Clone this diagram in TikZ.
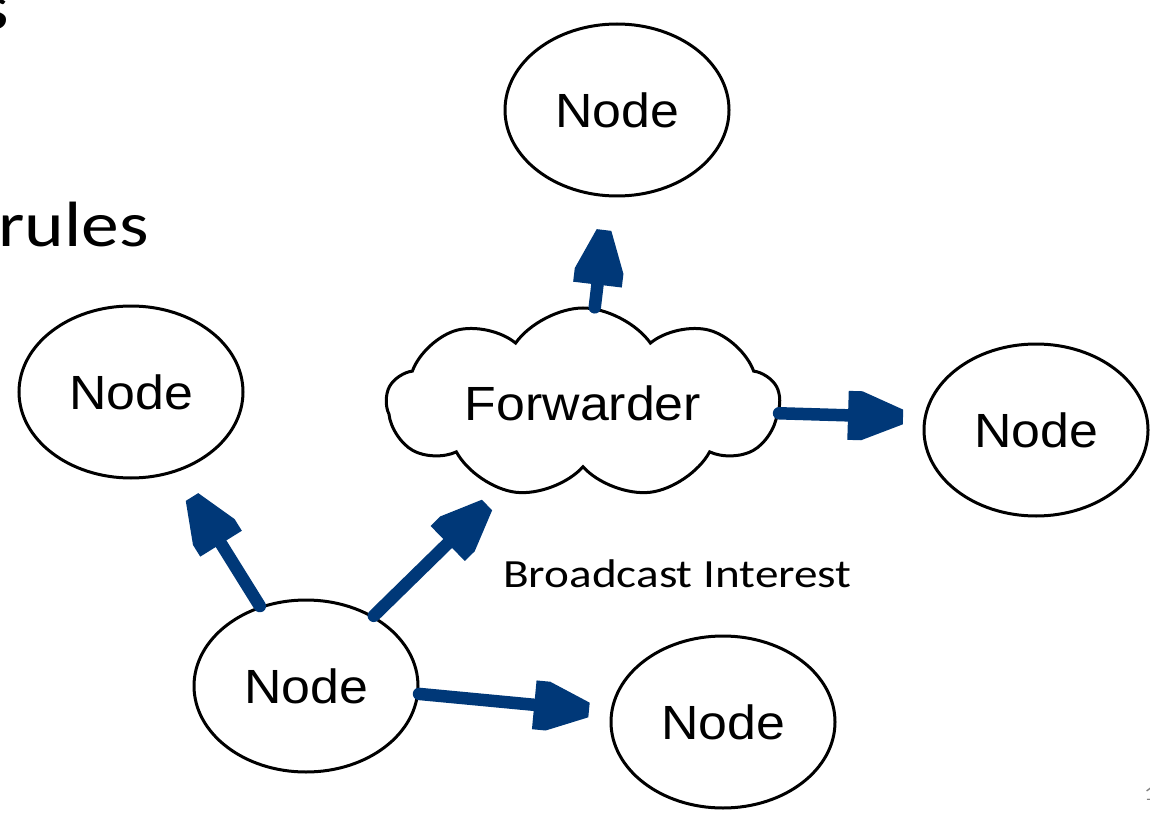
\documentclass[tikz,border=0pt]{standalone}
\usepackage{fontspec}
\setmainfont{Liberation Sans}[FakeStretch=1.08]
\newfontfamily\calibri{Carlito}[FakeStretch=1.18]
\usetikzlibrary{arrows.meta}
\usetikzlibrary{shapes.geometric}
\usetikzlibrary{shapes.symbols}

\definecolor{navy}{RGB}{0,56,120}

% block arrow head: flat back, short straight sides, blunt point
\pgfdeclarearrow{
  name = Beacon,
  parameters = {\the\pgfarrowlength,\the\pgfarrowwidth},
  setup code = {
    \pgfarrowssettipend{0pt}
    \pgfarrowssetlineend{-0.6\pgfarrowlength}
    \pgfarrowssetbackend{-\pgfarrowlength}
    \pgfarrowsupperhullpoint{0pt}{0.15\pgfarrowwidth}
    \pgfarrowsupperhullpoint{-\pgfarrowlength}{0.5\pgfarrowwidth}
    \pgfarrowssavethe\pgfarrowlength
    \pgfarrowssavethe\pgfarrowwidth
  },
  drawing code = {
    \pgfpathmoveto{\pgfqpoint{0pt}{0.15\pgfarrowwidth}}
    \pgfpathlineto{\pgfqpoint{-0.75\pgfarrowlength}{0.5\pgfarrowwidth}}
    \pgfpathlineto{\pgfqpoint{-\pgfarrowlength}{0.5\pgfarrowwidth}}
    \pgfpathlineto{\pgfqpoint{-\pgfarrowlength}{-0.5\pgfarrowwidth}}
    \pgfpathlineto{\pgfqpoint{-0.75\pgfarrowlength}{-0.5\pgfarrowwidth}}
    \pgfpathlineto{\pgfqpoint{0pt}{-0.15\pgfarrowwidth}}
    \pgfpathclose
    \pgfusepathqfill
  },
  defaults = {length=55pt,width=49pt}
}

\begin{document}
\begin{tikzpicture}[x=1pt,y=-1pt]
    \tikzstyle{peer}=[draw,ellipse,line width=3pt,inner sep=0pt,minimum width=224pt,minimum height=172pt,font=\fontsize{48}{56}\selectfont]
    \tikzstyle{router}=[draw,cloud,cloud puffs=9,cloud puff arc=110,cloud ignores aspect,line width=3pt,inner sep=0pt,minimum width=393pt,minimum height=190pt,font=\fontsize{48}{56}\selectfont]
    \tikzstyle{flow}=[line width=12.5pt,color=navy,line cap=round,-{Beacon[length=55pt,width=49pt]}]
    \tikzstyle{slide text}=[inner sep=0pt,font=\calibri\fontsize{64}{70}\selectfont]

    \useasboundingbox (0,0) rectangle (1150,818);
    \clip (0,0) rectangle (1150,818);

    % Slide text behind the picture
    \node[style=slide text,anchor=base east] (t_s) at (9,30) {s};
    \node[style=slide text,anchor=base west] (t_rules) at (-2,247) {rules};
    \node[inner sep=0pt,anchor=base west,gray,font=\calibri\fontsize{20}{24}\selectfont] (t_page) at (1144,800) {1};

    % Nodes
    \node[style=peer] (n_top) at (617,110) {Node};
    \node[style=peer] (n_left) at (131,392) {Node};
    \node[style=peer] (n_right) at (1036,430) {Node};
    \node[style=peer] (n_src) at (306,686) {Node};
    \node[style=peer] (n_low) at (723,722) {Node};
    \node[style=router] (fwd) at (583,403) {Forwarder};

    % Arrow tips
    \coordinate (tip_top) at (604,230);
    \coordinate (tip_right) at (903,417);
    \coordinate (tip_left) at (192,497);
    \coordinate (tip_fwd) at (487,505);
    \coordinate (tip_low) at (589,710);

    % Forwarder sends on
    \draw[style=flow] (fwd.83) -- (tip_top);
    \draw[style=flow] (fwd.-3) -- (tip_right);

    % Broadcast from the source
    \draw[style=flow] (n_src.120) -- (tip_left);
    \draw[style=flow] (n_src.46) -- (tip_fwd);
    \draw[style=flow] (n_src.-4) -- (tip_low);

    \node[inner sep=0pt,anchor=base west,font=\calibri\fontsize{40}{44}\selectfont] (lbl) at (503,587) {Broadcast Interest};

\end{tikzpicture}
\end{document}
